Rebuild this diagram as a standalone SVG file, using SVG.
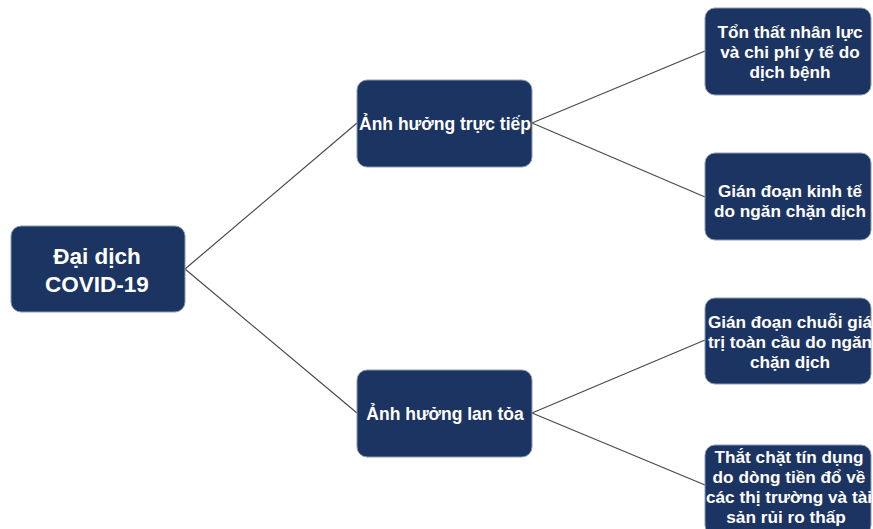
<svg xmlns="http://www.w3.org/2000/svg" width="873" height="529" viewBox="0 0 873 529">
<style>
.box{fill:#1c3461;stroke:#8a9ab5;stroke-width:1}
.t{font-family:"Liberation Sans",Arial,sans-serif;font-weight:bold;fill:#ffffff;text-anchor:middle}
.s{font-size:17.2px}
.m{font-size:17.5px}
.r{font-size:22.5px}
.c{stroke:#4a4a4a;stroke-width:1.2;fill:none}
</style>
<rect width="873" height="529" fill="#ffffff"/>
<g id="connectors">
<line class="c" x1="185" y1="269" x2="357" y2="123"/>
<line class="c" x1="185" y1="269" x2="357" y2="413"/>
<line class="c" x1="532" y1="123" x2="705" y2="51"/>
<line class="c" x1="532" y1="123" x2="705" y2="197"/>
<line class="c" x1="532" y1="413" x2="705" y2="340"/>
<line class="c" x1="532" y1="413" x2="705" y2="485"/>
</g>
<g id="root">
<rect class="box" x="11" y="226" width="174" height="86" rx="10"/>
<text class="t r" x="97" y="264">Đại dịch</text>
<text class="t r" x="97" y="292">COVID-19</text>
</g>
<g id="direct">
<rect class="box" x="357" y="80" width="175" height="87" rx="10"/>
<text class="t m" x="445" y="130">Ảnh hưởng trực tiếp</text>
</g>
<g id="spread">
<rect class="box" x="357" y="370" width="175" height="87" rx="10"/>
<text class="t m" x="445" y="420">Ảnh hưởng lan tỏa</text>
</g>
<g id="n1">
<rect class="box" x="705" y="8" width="166" height="87" rx="10"/>
<text class="t s" x="790" y="38">Tổn thất nhân lực</text>
<text class="t s" x="790" y="58">và chi phí y tế do</text>
<text class="t s" x="790" y="78">dịch bệnh</text>
</g>
<g id="n2">
<rect class="box" x="705" y="153" width="166" height="87" rx="10"/>
<text class="t s" x="790" y="197">Gián đoạn kinh tế</text>
<text class="t s" x="790" y="217">do ngăn chặn dịch</text>
</g>
<g id="n3">
<rect class="box" x="705" y="298" width="166" height="86" rx="10"/>
<text class="t s" x="790" y="328">Gián đoạn chuỗi giá</text>
<text class="t s" x="790" y="348">trị toàn cầu do ngăn</text>
<text class="t s" x="790" y="368">chặn dịch</text>
</g>
<g id="n4">
<rect class="box" x="705" y="445" width="166" height="90" rx="10"/>
<text class="t s" x="789" y="463">Thắt chặt tín dụng</text>
<text class="t s" x="789" y="483">do dòng tiền đổ về</text>
<text class="t s" x="789" y="503">các thị trường và tài</text>
<text class="t s" x="786" y="523">sản rủi ro thấp</text>
</g>
</svg>
